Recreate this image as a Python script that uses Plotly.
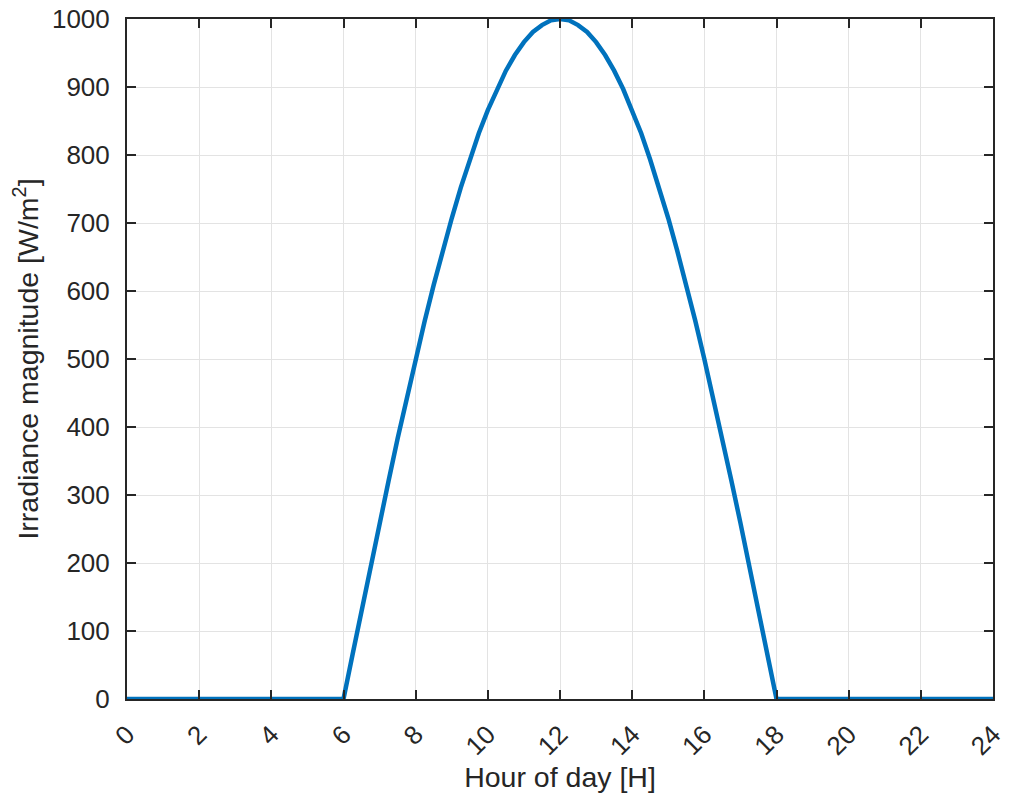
import plotly.graph_objects as go

# Hours (quarter-hour sampling during daylight) and irradiance
hours = [0, 2, 4] + [6 + 0.25 * k for k in range(49)] + [20, 22, 24]
day_rise = [0, 65, 131, 195, 259, 321, 383, 442, 500, 556, 609, 659, 707,
            752, 793, 832, 866, 897, 924, 947, 966, 981, 991, 998, 1000]
day_values = day_rise + day_rise[-2::-1]
irradiance = [0, 0, 0] + day_values + [0, 0, 0]

x_ticks = list(range(0, 25, 2))
y_ticks = list(range(0, 1001, 100))

FONT = "Liberation Sans, Arial, Helvetica, sans-serif"
TXT = "#262626"

fig = go.Figure()
fig.add_trace(go.Scatter(x=hours, y=irradiance, mode="lines",
                         line=dict(color="#0072BD", width=4.5), showlegend=False))

axis_common = dict(showline=True, linecolor=TXT, linewidth=2, mirror="ticks",
                   ticks="inside", ticklen=9, tickwidth=2, tickcolor=TXT,
                   showgrid=True, gridcolor="#E3E3E3", gridwidth=1, zeroline=False,
                   ticklabeloverflow="allow", automargin=False,
                   tickfont=dict(family=FONT, size=26, color=TXT))

fig.update_xaxes(range=[0, 24], tickvals=x_ticks, tickangle=-45, ticklabelstandoff=8,
                 title=dict(text="Hour of day [H]", standoff=6,
                            font=dict(family=FONT, size=28.5, color=TXT)),
                 **axis_common)
fig.update_yaxes(range=[0, 1000], tickvals=y_ticks, ticklabelstandoff=10,
                 title=dict(text="Irradiance magnitude [W/m<sup>2</sup>]", standoff=5,
                            font=dict(family=FONT, size=28.5, color=TXT)),
                 **axis_common)

fig.update_layout(width=1011, height=793, margin=dict(l=127, r=18, t=19, b=94),
                  plot_bgcolor="white", paper_bgcolor="white")

fig.write_html("out.html", config={"displayModeBar": False},
               post_script="document.body.style.margin='0';document.body.style.overflow='hidden';")
